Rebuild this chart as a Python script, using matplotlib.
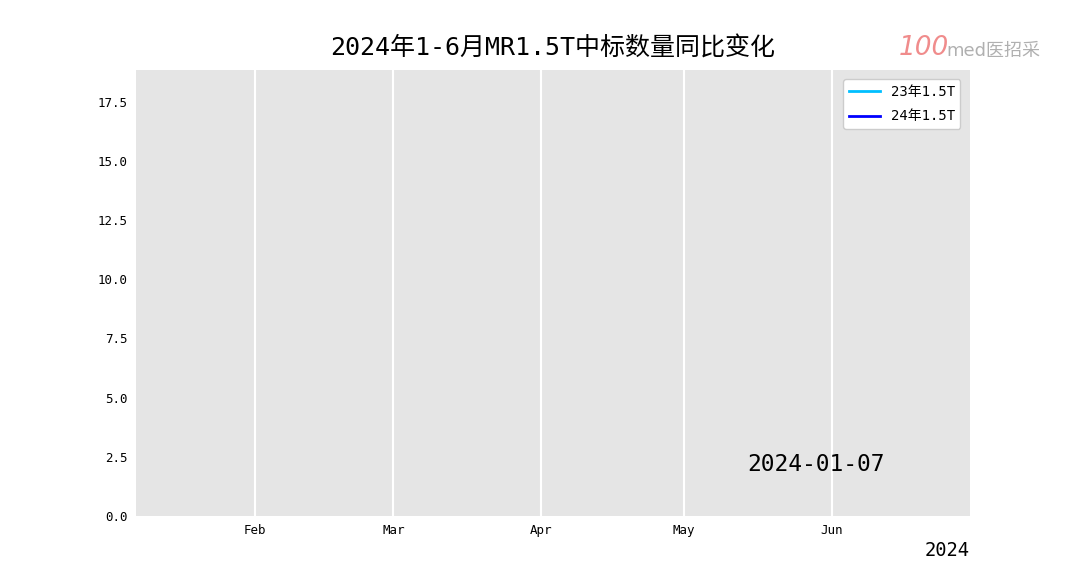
import pandas as pd
import matplotlib.pyplot as plt
import matplotlib.dates as mdates

plt.rcParams['font.family'] = ['DejaVu Sans Mono', 'Noto Sans CJK SC']
plt.rcParams['axes.unicode_minus'] = False

# data shown in this frame (animation at 2024-01-07: only the first point)
dates = pd.to_datetime(['2024-01-07'])
mr15_2023 = [0]
mr15_2024 = [0]
series_names = ['23年1.5T', '24年1.5T']
current_day = '2024-01-07'

fig = plt.figure(figsize=(10.79, 5.81), dpi=100)
fig.patch.set_facecolor('white')
ax = fig.add_axes([0.126, 0.112, 0.773, 0.768])
ax.set_facecolor('#e5e5e5')

ax.plot(dates, mr15_2023, color='#00bfff', lw=2, label=series_names[0])
ax.plot(dates, mr15_2024, color='#0000ff', lw=2, label=series_names[1])

ax.set_xlim(pd.Timestamp('2024-01-07'), pd.Timestamp('2024-06-30'))
ax.set_ylim(0, 18.85)
ax.set_yticks([0, 2.5, 5, 7.5, 10, 12.5, 15, 17.5])
ax.yaxis.set_major_formatter(plt.FuncFormatter(lambda v, p: f'{v:.1f}'))
ax.xaxis.set_major_locator(mdates.MonthLocator())
ax.xaxis.set_major_formatter(mdates.DateFormatter('%b'))

ax.grid(axis='x', color='white', lw=1.5)
ax.grid(axis='y', visible=False)
ax.set_axisbelow(True)
ax.tick_params(length=0, labelsize=9, pad=6)
for s in ax.spines.values():
    s.set_visible(False)

ax.set_title('2024年1-6月MR1.5T中标数量同比变化', fontsize=18, pad=10)
ax.legend(loc='upper right', fontsize=10, facecolor='white', framealpha=1,
          edgecolor='#cccccc', handlelength=2.2, labelspacing=0.75,
          borderaxespad=0.7)

ax.text(0.815, 0.115, current_day, transform=ax.transAxes, fontsize=16.5,
        ha='center', va='center')
fig.text(0.899, 0.053, '2024', fontsize=13.5, ha='right', va='center')

# logo
fig.text(0.833, 0.918, '100', fontsize=19, style='italic', color='#f08c8c',
         ha='left', va='center', family='DejaVu Sans')
fig.text(0.877, 0.913, 'med医招采', fontsize=13, color='#b0b0b0',
         ha='left', va='center', family=['DejaVu Sans', 'Noto Sans CJK SC'])

fig.savefig('out.png', dpi=100)
